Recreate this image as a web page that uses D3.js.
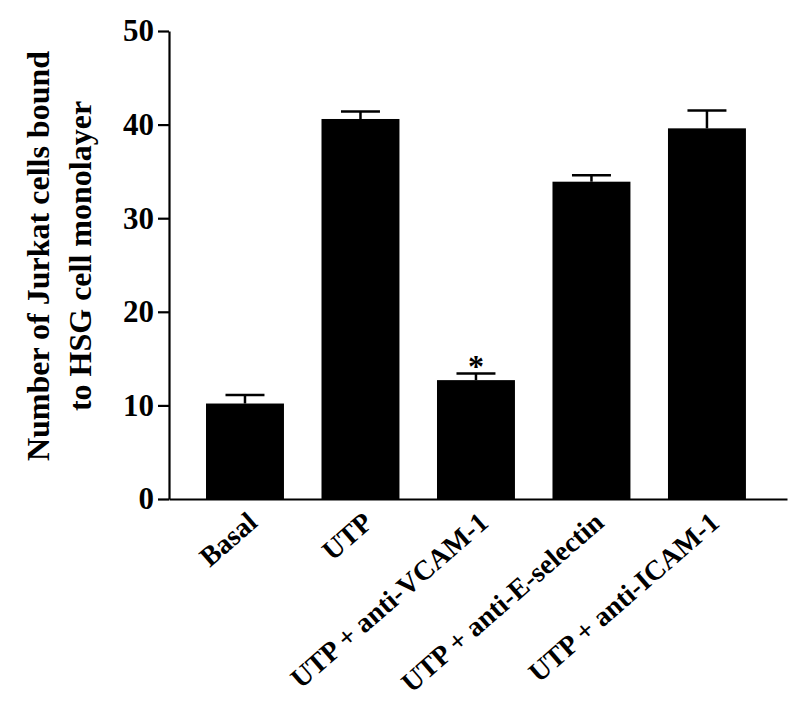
<!DOCTYPE html>
<html>
<head>
<meta charset="utf-8">
<script src="https://cdn.jsdelivr.net/npm/d3@7"></script>
<style>
    body { margin: 0; background: #fff; }
    svg text { font-family: "Liberation Serif", "Times New Roman", serif; font-weight: bold; fill: #000; }
</style>
</head>
<body>
<div id="chart"></div>
<script>
// Data
const categories = ['Basal', 'UTP', 'UTP + anti-VCAM-1', 'UTP + anti-E-selectin', 'UTP + anti-ICAM-1'];
const means = [10.2, 40.6, 12.7, 33.9, 39.6];
const errors = [0.9, 0.8, 0.7, 0.7, 1.9];
const significant = [false, false, true, false, false];
const yTicks = [0, 10, 20, 30, 40, 50];
const yLabelLines = ['Number of Jurkat cells bound', 'to HSG cell monolayer'];

const width = 800, height = 714;
const margin = { top: 31, right: 13, bottom: 215, left: 169 };
const innerWidth = width - margin.left - margin.right;
const innerHeight = height - margin.top - margin.bottom;

const data = categories.map((c, i) => ({ category: c, value: means[i], err: errors[i], sig: significant[i] }));

const svg = d3.select('#chart')
    .append('svg')
    .attr('width', width)
    .attr('height', height);

const g = svg.append('g')
    .attr('transform', `translate(${margin.left},${margin.top})`);

// Scales
const xScale = d3.scaleBand()
    .domain(categories)
    .range([0, innerWidth])
    .paddingInner(0.325)
    .paddingOuter(0.338)
    .align(0.474);

const yScale = d3.scaleLinear()
    .domain([0, 50])
    .range([innerHeight, 0]);

// Bars
g.selectAll('.bar')
    .data(data)
    .enter()
    .append('rect')
    .attr('class', 'bar')
    .attr('x', d => xScale(d.category))
    .attr('width', xScale.bandwidth())
    .attr('y', d => yScale(d.value))
    .attr('height', d => innerHeight - yScale(d.value))
    .attr('fill', '#000');

// Error bars (upper only)
const eb = g.selectAll('.err')
    .data(data)
    .enter()
    .append('g')
    .attr('class', 'err')
    .attr('stroke', '#000')
    .attr('stroke-width', 2.5);

eb.append('line')
    .attr('x1', d => xScale(d.category) + xScale.bandwidth() / 2)
    .attr('x2', d => xScale(d.category) + xScale.bandwidth() / 2)
    .attr('y1', d => yScale(d.value))
    .attr('y2', d => yScale(d.value + d.err));

eb.append('line')
    .attr('x1', d => xScale(d.category) + xScale.bandwidth() / 4)
    .attr('x2', d => xScale(d.category) + xScale.bandwidth() * 3 / 4)
    .attr('y1', d => yScale(d.value + d.err))
    .attr('y2', d => yScale(d.value + d.err));

// Significance marker
g.selectAll('.star')
    .data(data.filter(d => d.sig))
    .enter()
    .append('text')
    .attr('class', 'star')
    .attr('x', d => xScale(d.category) + xScale.bandwidth() / 2)
    .attr('y', d => yScale(d.value + d.err) + 3)
    .attr('text-anchor', 'middle')
    .style('font-size', '32px')
    .text('*');

// Axes
const yAxis = g.append('g')
    .attr('class', 'y-axis')
    .call(d3.axisLeft(yScale).tickValues(yTicks).tickSize(11).tickSizeOuter(0).tickPadding(4));

yAxis.selectAll('path, line')
    .attr('stroke', '#000')
    .attr('stroke-width', 2.2);
yAxis.selectAll('text')
    .style('font-size', '31px');

const xAxis = g.append('g')
    .attr('class', 'x-axis')
    .attr('transform', `translate(0,${innerHeight})`)
    .call(d3.axisBottom(xScale).tickSize(0).tickSizeOuter(0));

xAxis.select('.domain')
    .attr('stroke', '#000')
    .attr('stroke-width', 2.2);
xAxis.selectAll('text')
    .attr('y', 0)
    .attr('dy', 0)
    .attr('transform', 'translate(14,26) rotate(-41)')
    .style('text-anchor', 'end')
    .style('font-size', '28px');

// Y axis title
const yTitle = svg.append('text')
    .attr('transform', `translate(0, ${margin.top + innerHeight / 2 - 9}) rotate(-90)`)
    .attr('text-anchor', 'middle')
    .style('font-size', '32px');

yTitle.selectAll('tspan')
    .data(yLabelLines)
    .enter()
    .append('tspan')
    .attr('x', 0)
    .attr('y', (d, i) => 49 + i * 42)
    .text(d => d);
</script>
</body>
</html>
